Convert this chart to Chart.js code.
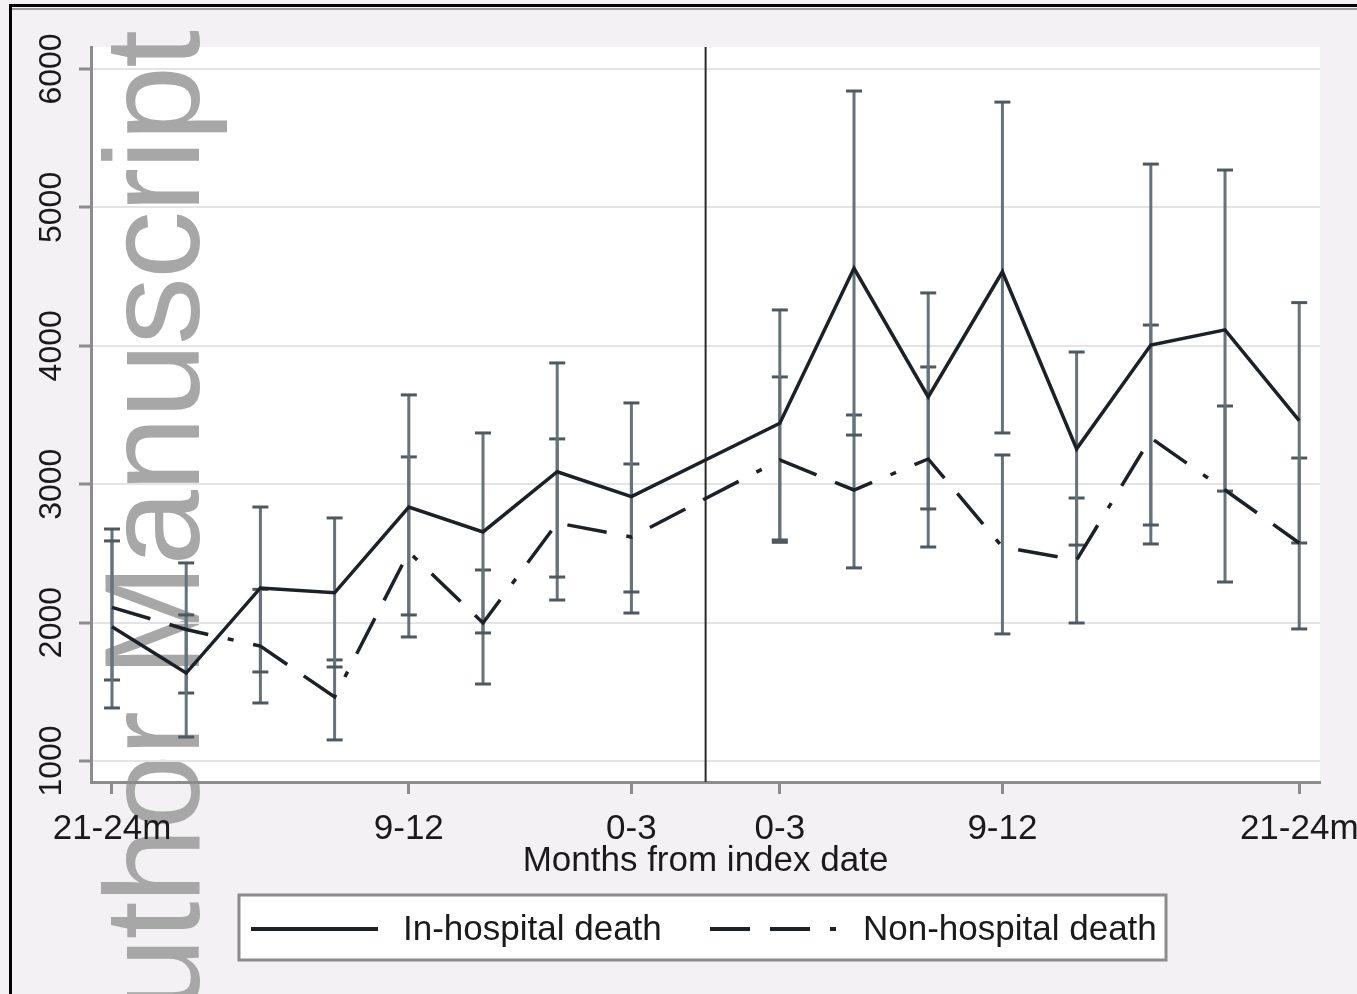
<!DOCTYPE html>
<html>
<head>
<meta charset="utf-8">
<script src="https://cdn.jsdelivr.net/npm/chart.js@4.4.1/dist/chart.umd.min.js"></script>
<style>
html, body { margin: 0; padding: 0; background: #f3f1f3; }
canvas { display: block; }
</style>
</head>
<body>
<canvas id="chart" width="1357" height="994"></canvas>
<script>
// periods before / after the index date
const periods = ['21-24m', '18-21', '15-18', '12-15', '9-12', '6-9', '3-6', '0-3',
                 '0-3', '3-6', '6-9', '9-12', '12-15', '15-18', '18-21', '21-24m'];
// x slot for each period, slot 9 is the index date itself
const slots = [1, 2, 3, 4, 5, 6, 7, 8, 10, 11, 12, 13, 14, 15, 16, 17];
const indexSlot = 9;
const tickSlots = [1, 5, 8, 10, 13, 17];
const yTicks = [1000, 2000, 3000, 4000, 5000, 6000];

// In-hospital death: mean and 95% CI
const inHosp   = [1970, 1635, 2250, 2215, 2835, 2655, 3090, 2910, 3440, 4560, 3630, 4535, 3255, 4005, 4115, 3460];
const inHospLo = [1383, 1173, 1643, 1679, 2055, 1925, 2329, 2221, 2597, 3355, 2821, 3370, 2560, 2705, 2950, 2575];
const inHospHi = [2590, 2055, 2835, 2756, 3645, 3370, 3876, 3587, 4259, 5841, 4382, 5761, 3955, 5313, 5270, 4312];

// Non-hospital death: mean and 95% CI
const nonHosp   = [2110, 1950, 1830, 1462, 2510, 1997, 2720, 2618, 3175, 2958, 3182, 2546, 2452, 3334, 2958, 2575];
const nonHospLo = [1585, 1491, 1419, 1152, 1896, 1556, 2163, 2069, 2580, 2395, 2546, 1918, 1997, 2568, 2293, 1954];
const nonHospHi = [2676, 2431, 2240, 1730, 3197, 2380, 3327, 3146, 3775, 3500, 3847, 3211, 2900, 4150, 3565, 3189];

const FONT = '"Liberation Sans", Arial, Helvetica, sans-serif';
const INK = '#1b2126';
const CI_COLOR = '#65737a';
const AXIS_COLOR = '#8c8c8c';
const DASH = [40, 20, 40, 20, 6, 20];

function meanPoints(vals) {
    return vals.map((v, i) => ({ x: slots[i], y: v }));
}

// each CI is a vertical segment lo -> hi, broken by a null point
function ciPoints(lo, hi) {
    const pts = [];
    lo.forEach((v, i) => {
        pts.push({ x: slots[i], y: v });
        pts.push({ x: slots[i], y: hi[i] });
        pts.push({ x: slots[i], y: null });
    });
    return pts;
}

const backgroundPlugin = {
    id: 'background',
    beforeDraw(chart) {
        const ctx = chart.ctx;
        const a = chart.chartArea;
        ctx.save();
        ctx.fillStyle = '#f3f1f3';
        ctx.fillRect(0, 0, chart.width, chart.height);
        ctx.fillStyle = '#ffffff';
        ctx.fillRect(a.left, a.top, a.right - a.left, a.bottom - a.top);
        // frame of the scanned page
        ctx.fillStyle = '#000000';
        ctx.fillRect(9, 4, chart.width - 9, 3);
        ctx.fillRect(9, 4, 3, chart.height - 4);
        ctx.fillStyle = '#9a9a9a';
        ctx.fillRect(12, 8, chart.width - 12, 2);

        // watermark
        ctx.font = '136px ' + FONT;
        ctx.letterSpacing = '-2px';
        ctx.fillStyle = '#a7a7a7';
        ctx.textBaseline = 'alphabetic';
        ctx.textAlign = 'left';
        const text = 'Author Manuscript';
        const w = ctx.measureText(text).width;
        ctx.translate(199, 32 + w);
        ctx.rotate(-Math.PI / 2);
        ctx.fillText(text, 0, 0);
        ctx.restore();
    }
};

const indexLinePlugin = {
    id: 'indexLine',
    beforeDatasetsDraw(chart) {
        const ctx = chart.ctx;
        const a = chart.chartArea;
        const x = chart.scales.x.getPixelForValue(indexSlot);
        ctx.save();
        ctx.strokeStyle = '#2b2b2b';
        ctx.lineWidth = 2;
        ctx.beginPath();
        ctx.moveTo(x, a.top);
        ctx.lineTo(x, a.bottom);
        ctx.stroke();
        ctx.restore();
    }
};

const yLabelPlugin = {
    id: 'yLabels',
    afterDraw(chart) {
        const ctx = chart.ctx;
        const y = chart.scales.y;
        ctx.save();
        ctx.font = '32px ' + FONT;
        ctx.fillStyle = '#1a1a1a';
        ctx.textAlign = 'center';
        ctx.textBaseline = 'middle';
        y.ticks.forEach(t => {
            ctx.save();
            ctx.translate(52, y.getPixelForValue(t.value));
            ctx.rotate(-Math.PI / 2);
            ctx.fillText(String(t.value), 0, 0);
            ctx.restore();
        });
        ctx.restore();
    }
};

const legendPlugin = {
    id: 'boxLegend',
    afterDraw(chart) {
        const ctx = chart.ctx;
        ctx.save();
        ctx.fillStyle = '#ffffff';
        ctx.fillRect(239, 895, 927, 65);
        ctx.strokeStyle = AXIS_COLOR;
        ctx.lineWidth = 3;
        ctx.strokeRect(239, 895, 927, 65);

        const items = [
            { ds: chart.data.datasets[0], x0: 251, x1: 378, tx: 403 },
            { ds: chart.data.datasets[1], x0: 710, x1: 842, tx: 863 }
        ];
        items.forEach(it => {
            ctx.strokeStyle = it.ds.borderColor;
            ctx.lineWidth = 4;
            ctx.setLineDash(it.ds.borderDash || []);
            ctx.beginPath();
            ctx.moveTo(it.x0, 929);
            ctx.lineTo(it.x1, 929);
            ctx.stroke();
            ctx.setLineDash([]);
            ctx.font = '35px ' + FONT;
            ctx.fillStyle = '#1a1a1a';
            ctx.textAlign = 'left';
            ctx.textBaseline = 'middle';
            ctx.fillText(it.ds.label, it.tx, 930);
        });
        ctx.restore();
    }
};

new Chart(document.getElementById('chart').getContext('2d'), {
    type: 'line',
    data: {
        datasets: [
            {
                label: 'In-hospital death',
                data: meanPoints(inHosp),
                borderColor: INK,
                borderWidth: 3.5,
                pointRadius: 0,
                tension: 0
            },
            {
                label: 'Non-hospital death',
                data: meanPoints(nonHosp),
                borderColor: INK,
                borderWidth: 3.5,
                borderDash: DASH,
                pointRadius: 0,
                tension: 0
            },
            {
                label: 'In-hospital 95% CI',
                data: ciPoints(inHospLo, inHospHi),
                borderColor: CI_COLOR,
                borderWidth: 3,
                pointStyle: 'line',
                pointRadius: 8,
                pointBorderWidth: 3,
                pointBorderColor: '#4d595e',
                spanGaps: false
            },
            {
                label: 'Non-hospital 95% CI',
                data: ciPoints(nonHospLo, nonHospHi),
                borderColor: CI_COLOR,
                borderWidth: 3,
                pointStyle: 'line',
                pointRadius: 8,
                pointBorderWidth: 3,
                pointBorderColor: '#4d595e',
                spanGaps: false
            }
        ]
    },
    options: {
        responsive: false,
        animation: false,
        devicePixelRatio: 1,
        layout: { padding: { left: 0, top: 47, right: 37, bottom: 0 } },
        plugins: {
            legend: { display: false },
            tooltip: { enabled: false }
        },
        scales: {
            x: {
                type: 'linear',
                min: 0.717,
                max: 17.28,
                afterBuildTicks: scale => {
                    scale.ticks = tickSlots.map(v => ({ value: v }));
                },
                afterFit: scale => {
                    scale.height = 212;
                    scale.paddingLeft = 0;
                    scale.paddingRight = 0;
                },
                ticks: {
                    autoSkip: false,
                    maxRotation: 0,
                    minRotation: 0,
                    padding: 14,
                    color: '#1a1a1a',
                    font: { family: FONT, size: 35 },
                    callback: v => periods[slots.indexOf(v)]
                },
                grid: {
                    drawOnChartArea: false,
                    drawTicks: true,
                    tickLength: 12,
                    tickColor: AXIS_COLOR,
                    tickWidth: 3
                },
                border: { display: true, color: AXIS_COLOR, width: 3 },
                title: {
                    display: true,
                    text: 'Months from index date',
                    color: '#1a1a1a',
                    font: { family: FONT, size: 35 },
                    padding: { top: 0, bottom: 112 }
                }
            },
            y: {
                type: 'linear',
                min: 848,
                max: 6159,
                afterBuildTicks: scale => {
                    scale.ticks = yTicks.map(v => ({ value: v }));
                },
                afterFit: scale => {
                    scale.width = 91;
                },
                ticks: { display: false },
                grid: {
                    color: '#e3e3e8',
                    lineWidth: 2,
                    drawTicks: true,
                    tickLength: 12,
                    tickColor: AXIS_COLOR,
                    tickWidth: 3
                },
                border: { display: true, color: AXIS_COLOR, width: 3 }
            }
        }
    },
    plugins: [backgroundPlugin, indexLinePlugin, yLabelPlugin, legendPlugin]
});
</script>
</body>
</html>
